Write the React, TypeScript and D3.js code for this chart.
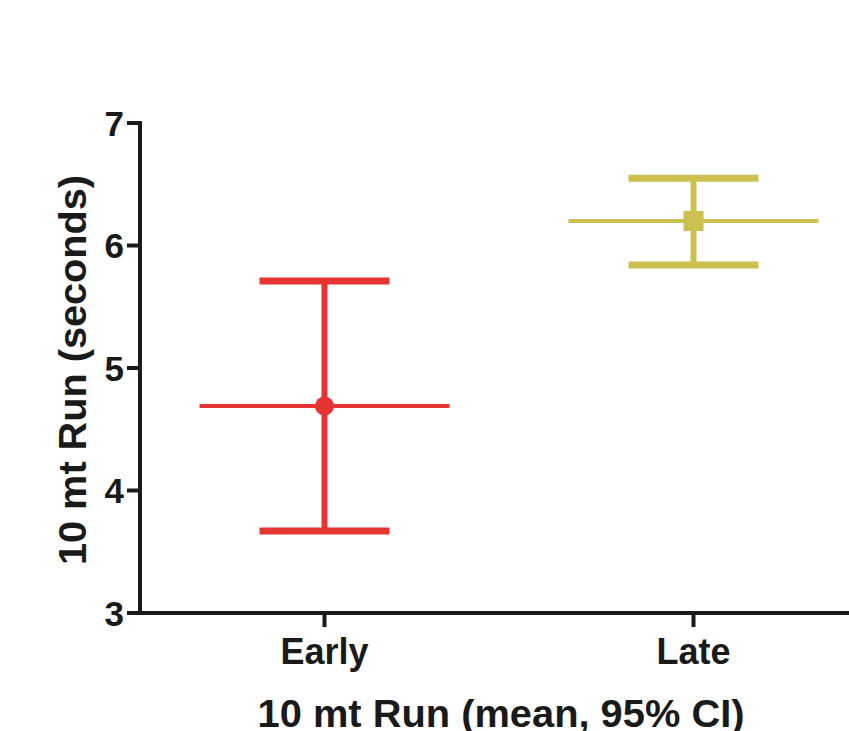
import React from "react";
import * as d3 from "d3";

const categories = ["Early", "Late"];
const means = [4.69, 6.2];
const lowerCI = [3.67, 5.84];
const upperCI = [5.71, 6.55];
const colors = ["#E53431", "#CCC051"];
const yTicks = [3, 4, 5, 6, 7];

const W = 849;
const H = 731;

export default function App() {
  const y = d3.scaleLinear().domain([3, 7]).range([613, 123]);
  const x = d3.scalePoint<string>().domain(categories).range([140, 878]).padding(0.5);
  const axisColor = "#1a1a1a";
  const font = "'Liberation Sans', Arial, sans-serif";
  return (
    <svg width={W} height={H} style={{ position: "absolute", left: 0, top: 0, background: "#fff" }}>
      {/* axes */}
      <line x1={140} x2={140} y1={y(7) - 2} y2={y(3) + 2} stroke={axisColor} strokeWidth={4} />
      <line x1={138} x2={W} y1={y(3)} y2={y(3)} stroke={axisColor} strokeWidth={4} />
      {yTicks.map((t) => (
        <g key={t}>
          <line x1={127} x2={140} y1={y(t)} y2={y(t)} stroke={axisColor} strokeWidth={4} />
          <text x={124} y={y(t)} dy="0.36em" textAnchor="end" fontFamily={font} fontWeight="bold" fontSize={35} fill={axisColor}>
            {t}
          </text>
        </g>
      ))}
      {categories.map((c) => (
        <g key={c}>
          <line x1={x(c)!} x2={x(c)!} y1={y(3)} y2={y(3) + 14} stroke={axisColor} strokeWidth={4} />
          <text x={x(c)!} y={664} textAnchor="middle" fontFamily={font} fontWeight="bold" fontSize={36} fill={axisColor}>
            {c}
          </text>
        </g>
      ))}
      <text x={501} y={727} textAnchor="middle" fontFamily={font} fontWeight="bold" fontSize={38} fill={axisColor} textLength={487} lengthAdjust="spacingAndGlyphs">
        10 mt Run (mean, 95% CI)
      </text>
      <text transform={`translate(86,370) rotate(-90)`} textAnchor="middle" fontFamily={font} fontWeight="bold" fontSize={38} fill={axisColor} textLength={390} lengthAdjust="spacingAndGlyphs">
        10 mt Run (seconds)
      </text>
      {/* error bars */}
      {categories.map((c, i) => {
        const cx = x(c)!;
        const col = colors[i];
        return (
          <g key={c}>
            <line x1={cx - 125} x2={cx + 125} y1={y(means[i])} y2={y(means[i])} stroke={col} strokeWidth={4} />
            <line x1={cx} x2={cx} y1={y(lowerCI[i])} y2={y(upperCI[i])} stroke={col} strokeWidth={6} />
            <line x1={cx - 65} x2={cx + 65} y1={y(upperCI[i])} y2={y(upperCI[i])} stroke={col} strokeWidth={7} />
            <line x1={cx - 65} x2={cx + 65} y1={y(lowerCI[i])} y2={y(lowerCI[i])} stroke={col} strokeWidth={7} />
            {i === 0 ? (
              <circle cx={cx} cy={y(means[i])} r={9.5} fill={col} />
            ) : (
              <rect x={cx - 10} y={y(means[i]) - 10} width={20} height={20} fill={col} />
            )}
          </g>
        );
      })}
    </svg>
  );
}
